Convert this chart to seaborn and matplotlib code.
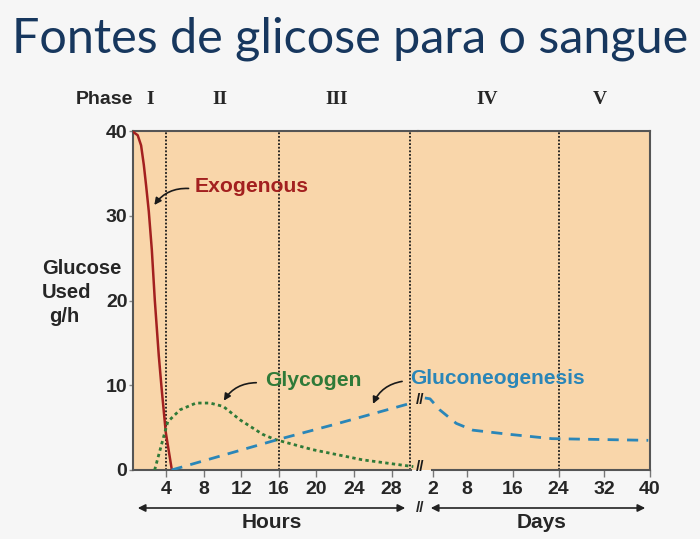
import matplotlib.pyplot as plt
from matplotlib.patches import FancyArrowPatch
import pandas as pd
import seaborn as sns

# values (glucose used, g/h)
exo_hours = [0.5, 1.0, 1.36, 1.65, 1.89, 2.18, 2.5, 2.82, 3.24, 3.56, 3.99, 4.63]
exo_glucose = [39.9, 39.5, 38.3, 36, 33.6, 30.5, 26, 20, 13.5, 9.4, 4.4, 0]

glyc_hours = [2.8, 3.9, 4.2, 5.5, 7.2, 8.7, 10.1, 11.9, 14.3, 15.6, 19.6, 24.9, 30.3]
glyc_glucose = [0, 4.5, 5.7, 7.1, 7.9, 7.9, 7.5, 5.9, 4.2, 3.6, 2.4, 1.2, 0.4]

gng_hours = [4.6, 9, 15.6, 22, 30.1]
gng_hours_glucose = [0, 1.4, 3.5, 5.4, 7.9]
gng_days = [0.6, 1.5, 3.2, 6.1, 9.0, 14.8, 22.8, 39.7]
gng_days_glucose = [8.5, 8.4, 7.1, 5.5, 4.7, 4.25, 3.7, 3.5]

hour_ticks = [4, 8, 12, 16, 20, 24, 28]
day_ticks = [2, 8, 16, 24, 32, 40]
y_ticks = [0, 10, 20, 30, 40]

phase_lines_hours = [4, 16, 30]
phase_lines_days = [24]
phase_names = ['I', 'II', 'III', 'IV', 'V']
ylabel_lines = ['Glucose', 'Used', 'g/h']

RED = '#A3201F'
GREEN = '#2F7A38'
BLUE = '#2A86B8'
PEACH = '#F9D6AA'
INK = '#1A1A1A'

sns.set_style('ticks')
plt.rcParams['font.family'] = ['Liberation Sans', 'DejaVu Sans']

fig = plt.figure(figsize=(7, 5.39), dpi=100, facecolor='#F6F6F6')
ax_h = fig.add_axes([133 / 700, 69 / 539, 285 / 700, 339 / 539])
ax_d = fig.add_axes([418 / 700, 69 / 539, 232 / 700, 339 / 539], sharey=ax_h)

for ax in (ax_h, ax_d):
    ax.set_facecolor(PEACH)
    for s in ax.spines.values():
        s.set_color('#555555')
        s.set_linewidth(1.5)
    ax.tick_params(axis='x', width=1, length=5, color='#777777', pad=3)
ax_h.tick_params(axis='y', width=1, length=3, color='#888888', pad=1)

ax_h.spines['right'].set_visible(False)
ax_d.spines['left'].set_visible(False)
ax_d.tick_params(axis='y', left=False, labelleft=False)

ax_h.set_xlim(0.5, 30.8)
ax_d.set_xlim(-0.6, 40)
ax_h.set_ylim(0, 40)
ax_h.spines['bottom'].set_bounds(0.5, 30.1)
ax_d.spines['bottom'].set_bounds(1.8, 40)

ax_h.set_xticks(hour_ticks)
ax_d.set_xticks(day_ticks)
ax_h.set_yticks(y_ticks)
for ax in (ax_h, ax_d):
    for lab in ax.get_xticklabels() + ax.get_yticklabels():
        lab.set_fontweight('bold')
        lab.set_fontsize(14)

for x in phase_lines_hours:
    ax_h.axvline(x, color=INK, ls=(0, (1, 1)), lw=1.3, zorder=1)
for x in phase_lines_days:
    ax_d.axvline(x, color=INK, ls=(0, (1, 1)), lw=1.3, zorder=1)

exo = pd.DataFrame({'hours': exo_hours, 'glucose': exo_glucose})
glyc = pd.DataFrame({'hours': glyc_hours, 'glucose': glyc_glucose})
gng_h = pd.DataFrame({'hours': gng_hours, 'glucose': gng_hours_glucose})
gng_d = pd.DataFrame({'days': gng_days, 'glucose': gng_days_glucose})

sns.lineplot(data=exo, x='hours', y='glucose', ax=ax_h, color=RED, linewidth=1.8, zorder=3)
sns.lineplot(data=glyc, x='hours', y='glucose', ax=ax_h, color=GREEN, linewidth=2,
             linestyle=(0, (1.2, 1.2)), zorder=3)
sns.lineplot(data=gng_h, x='hours', y='glucose', ax=ax_h, color=BLUE, linewidth=2,
             linestyle=(0, (4, 3)), zorder=3)
sns.lineplot(data=gng_d, x='days', y='glucose', ax=ax_d, color=BLUE, linewidth=2,
             linestyle=(0, (4, 3)), zorder=3)

for ax in (ax_h, ax_d):
    ax.set_xlabel('')
    ax.set_ylabel('')

# break marks
ax_d.text(-0.3, 8.3, '//', ha='center', va='center', fontsize=11, fontweight='bold',
          color=INK, clip_on=False)
ax_d.text(-0.3, 0.3, '//', ha='center', va='center', fontsize=11, fontweight='bold',
          color=INK, clip_on=False)

# curve labels
arrow_kw = dict(arrowstyle='-|>', color=INK, lw=1.2, mutation_scale=10,
                connectionstyle='arc3,rad=0.3')
ax_h.text(7.1, 33.4, 'Exogenous', color=RED, fontsize=15.2, fontweight='bold', va='center')
ax_h.annotate('', xy=(2.6, 31), xytext=(6.7, 33.2), arrowprops=arrow_kw)
ax_h.text(14.5, 10.6, 'Glycogen', color=GREEN, fontsize=15.2, fontweight='bold', va='center')
ax_h.annotate('', xy=(10.0, 7.9), xytext=(13.9, 10.3), arrowprops=arrow_kw)
ax_h.annotate('', xy=(25.9, 7.5), xytext=(29.4, 10.5), arrowprops=arrow_kw)
fig.text(410 / 700, 1 - 379 / 539, 'Gluconeogenesis', color=BLUE, fontsize=15,
         fontweight='bold', va='center', ha='left')

# phases
bt_h = ax_h.get_xaxis_transform()
bt_d = ax_d.get_xaxis_transform()
ax_h.text(-0.0, 1.092, 'Phase', transform=ax_h.transAxes, ha='right', va='center',
          fontsize=14, fontweight='bold')
for name, x in zip(phase_names[:3], [2.3, 9.7, 22.1]):
    ax_h.text(x, 1.092, name, transform=bt_h, ha='center', va='center', fontsize=14,
              fontweight='bold', family='Liberation Serif')
for name, x in zip(phase_names[3:], [11.5, 31.3]):
    ax_d.text(x, 1.092, name, transform=bt_d, ha='center', va='center', fontsize=14,
              fontweight='bold', family='Liberation Serif')

# y label, one line at a time so it sits beside the tick labels
for line, (px, py) in zip(ylabel_lines, [(42, 268), (42, 292), (49, 317)]):
    fig.text(px / 700, 1 - py / 539, line, ha='left', va='center', fontsize=14.5,
             fontweight='bold')

# time unit arrows
arrow_y = 1 - 508 / 539
fig.add_artist(FancyArrowPatch((135 / 700, arrow_y), (408 / 700, arrow_y),
                               transform=fig.transFigure, arrowstyle='<|-|>',
                               mutation_scale=11, color='#222222', lw=1.2))
fig.add_artist(FancyArrowPatch((428 / 700, arrow_y), (648 / 700, arrow_y),
                               transform=fig.transFigure, arrowstyle='<|-|>',
                               mutation_scale=11, color='#222222', lw=1.2))
fig.text(420 / 700, arrow_y, '//', ha='center', va='center', fontsize=11, fontweight='bold')
fig.text(272 / 700, 1 - 523 / 539, 'Hours', ha='center', va='center', fontsize=15,
         fontweight='bold')
fig.text(542 / 700, 1 - 523 / 539, 'Days', ha='center', va='center', fontsize=15,
         fontweight='bold')

fig.text(12 / 700, 1 - 39 / 539, 'Fontes de glicose para o sangue', ha='left', va='center',
         fontsize=34.9, color='#17375E', family=['Lato', 'DejaVu Sans'])

fig.savefig('out.png', dpi=100, facecolor=fig.get_facecolor())
